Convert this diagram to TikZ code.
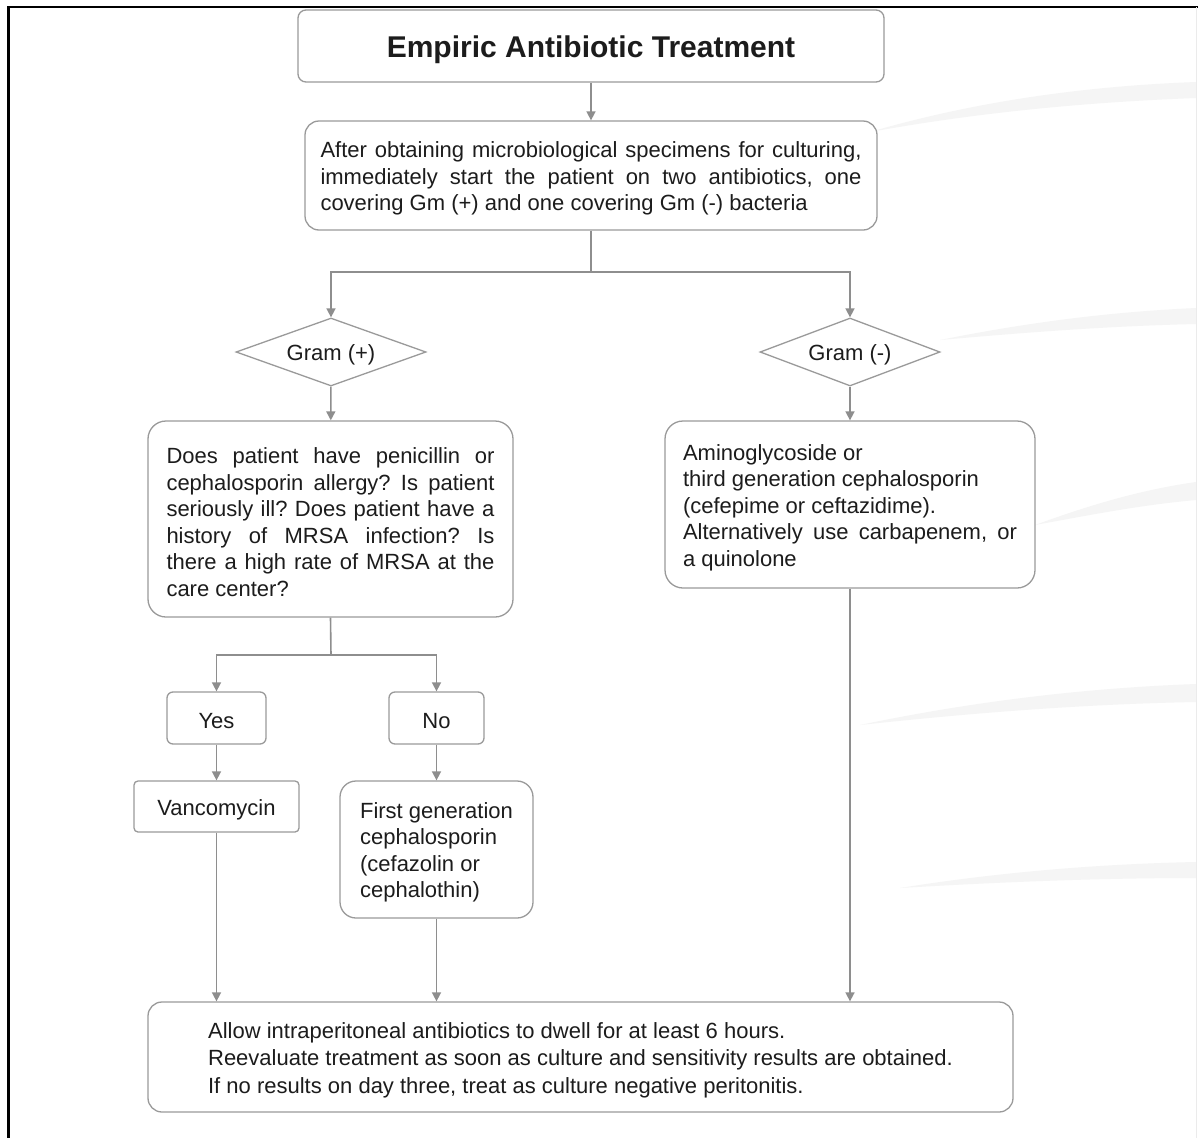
\documentclass[tikz,border=0pt]{standalone}
\usepackage{fontspec}
\setmainfont{Liberation Sans}
\usetikzlibrary{arrows.meta,shapes.geometric}
\definecolor{edgegray}{HTML}{8E8E8E}
\definecolor{boxgray}{HTML}{9A9A9A}
\definecolor{inkdark}{HTML}{1C1C1C}
\definecolor{swoosh}{HTML}{F5F5F5}
\newcommand{\justline}[2]{\makebox[#1][s]{#2}}
\newcommand{\liftline}{\rule{0pt}{0.99em}}
\frenchspacing
\begin{document}
\begin{tikzpicture}[x=1pt,y=-1pt,
  every node/.style={text=inkdark,font=\fontsize{22}{26.5}\selectfont},
  textlift/.style={execute at begin node={\liftline}},
  flowbox/.style={draw=boxgray,line width=1.3pt,fill=white,inner sep=0pt,align=left},
  onebox/.style={flowbox,textlift},
  decision/.style={draw=boxgray,line width=1.3pt,fill=white,diamond,aspect=2.8,inner sep=0pt,textlift},
  link/.style={draw=edgegray,line width=1.6pt},
  arrowlink/.style={link,-{Triangle[length=9pt,width=9pt]}}]
\useasboundingbox (0,0) rectangle (1203,1138);
\fill[white] (0,0) rectangle (1203,1138);
% faint background swooshes
\fill[swoosh] (870,132) .. controls (980,100) and (1090,86) .. (1196,82)
  -- (1196,98) .. controls (1090,102) and (980,112) .. (870,132) -- cycle;
\fill[swoosh] (940,340) .. controls (1030,322) and (1110,312) .. (1196,308)
  -- (1196,324) .. controls (1110,326) and (1030,332) .. (940,340) -- cycle;
\fill[swoosh] (1035,525) .. controls (1090,505) and (1140,490) .. (1196,482)
  -- (1196,500) .. controls (1140,505) and (1090,515) .. (1035,525) -- cycle;
\fill[swoosh] (860,725) .. controls (980,700) and (1090,688) .. (1196,684)
  -- (1196,702) .. controls (1090,704) and (980,712) .. (860,725) -- cycle;
\fill[swoosh] (900,888) .. controls (1000,872) and (1100,864) .. (1196,862)
  -- (1196,878) .. controls (1100,878) and (1000,882) .. (900,888) -- cycle;
% frame edges
\draw[line width=2.6pt,black] (8.7,1138) -- (8.7,7) -- (1198,7);
\draw[line width=1pt,black!8] (1196,7) -- (1196,1138);

% boxes
\node[onebox,rounded corners=8pt,minimum width=586pt,minimum height=72pt,
  font=\bfseries\fontsize{30}{34}\selectfont] (title) at (591,46) {Empiric Antibiotic Treatment};
\node[flowbox,rounded corners=14pt,minimum width=572pt,minimum height=109pt] (start) at (591,175.5)
  {\liftline\justline{541pt}{After obtaining microbiological specimens for culturing,}\\
   \justline{541pt}{immediately start the patient on two antibiotics, one}\\
   covering Gm (+) and one covering Gm (-) bacteria};
\node[decision,minimum width=190pt,minimum height=68pt] (gpos) at (331,352) {Gram (+)};
\node[decision,minimum width=180pt,minimum height=68pt] (gneg) at (850,352) {Gram (-)};
\node[flowbox,rounded corners=18pt,minimum width=365pt,minimum height=196pt] (ask) at (330.5,519)
  {\liftline\justline{328pt}{Does patient have penicillin or}\\
   \justline{328pt}{cephalosporin allergy? Is patient}\\
   \justline{328pt}{seriously ill? Does patient have a}\\
   \justline{328pt}{history of MRSA infection? Is}\\
   \justline{328pt}{there a high rate of MRSA at the}\\
   care center?};
\node[flowbox,rounded corners=18pt,minimum width=370pt,minimum height=167pt] (negrx) at (850,504.5)
  {\liftline Aminoglycoside or\\
   third generation cephalosporin\\
   (cefepime or ceftazidime).\\
   \justline{334pt}{Alternatively use carbapenem, or}\\
   a quinolone};
\node[onebox,rounded corners=6pt,minimum width=99pt,minimum height=52pt] (yes) at (216.5,718) {Yes};
\node[onebox,rounded corners=6pt,minimum width=95pt,minimum height=52pt] (no) at (436.5,718) {No};
\node[onebox,rounded corners=4pt,minimum width=165pt,minimum height=51pt] (vanco) at (216.5,806.5) {Vancomycin};
\node[flowbox,rounded corners=16pt,minimum width=193pt,minimum height=137pt] (cefa) at (436.5,849.5)
  {\liftline First generation\\ cephalosporin\\ (cefazolin or\\ cephalothin)};
\node[flowbox,rounded corners=14pt,minimum width=865pt,minimum height=110pt,
  font=\fontsize{22}{27.5}\selectfont] (dwell) at (580.5,1057)
  {\liftline Allow intraperitoneal antibiotics to dwell for at least 6 hours.\\
   Reevaluate treatment as soon as culture and sensitivity results are obtained.\\
   If no results on day three, treat as culture negative peritonitis.};

% junction points
\coordinate (split) at (591,272);
\coordinate (fork) at (331,655);

% connectors
\draw[arrowlink] (title) -- (start);
\draw[link] (start.south) -- (split);
\draw[arrowlink] (split) -| (gpos.north);
\draw[arrowlink] (split) -| (gneg.north);
\draw[arrowlink] (gpos) -- (ask);
\draw[arrowlink] (gneg) -- (negrx);
\draw[link] (ask.south) -- (fork);
\draw[arrowlink] (fork) -| (yes.north);
\draw[arrowlink] (fork) -| (no.north);
\draw[arrowlink] (yes) -- (vanco);
\draw[arrowlink] (no) -- (cefa);
\draw[arrowlink] (vanco.south) -- (vanco.south |- dwell.north);
\draw[arrowlink] (cefa.south) -- (cefa.south |- dwell.north);
\draw[arrowlink] (negrx.south) -- (negrx.south |- dwell.north);
\end{tikzpicture}
\end{document}
